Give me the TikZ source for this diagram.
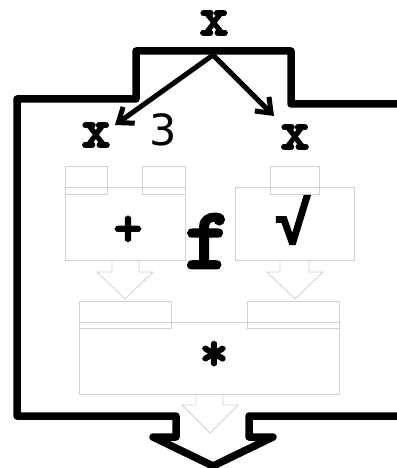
\documentclass[tikz,border=0pt]{standalone}
\usepackage{fontspec}
\newfontfamily\codefont[Extension=.otf, FakeBold=3]{lmmonolt10-bold}
\newfontfamily\rootfont{Liberation Mono Bold}[FakeBold=3]
\newfontfamily\numfont{DejaVu Sans}
\usetikzlibrary{arrows.meta, positioning}
\tikzstyle{arrow}=[-{Straight Barb[length=13pt,width=20pt]}, line width=5pt, color=black]

\begin{document}
\begin{tikzpicture}[x=1pt, y=-1pt,
  frame/.style={draw=black, line width=7.5pt, line join=round},
  part/.style={draw=black!18, line width=0.8pt},
  sym/.style={font=\codefont\fontsize{55}{55}\selectfont, inner sep=0pt},
  num/.style={font=\numfont\fontsize{43}{43}\selectfont, inner sep=0pt}
]
\useasboundingbox (0,0) rectangle (396,468);

% Outer function frame
\draw[frame] (400,104) -- (291,104) -- (291,51) -- (136,51) -- (136,99)
  -- (17,99) -- (17,416) -- (176,416) -- (176,437) -- (153,437)
  -- (213,466) -- (273,437) -- (249,437) -- (249,416) -- (400,416);

% Labels
\node[sym] (xin) at (214,23) {x};
\node[sym] (xleft) at (96,135) {x};
\node[num] (three) at (163,130) {3};
\node[sym] (xright) at (295,137) {x};
\node[sym, font=\codefont\fontsize{88}{88}\selectfont] (fname) at (208,241) {f};

% Arguments
\coordinate (split) at (213,55);
\coordinate (toleft) at (115,125);
\coordinate (toright) at (274,116);
\draw[arrow] (split) -- (toleft);
\draw[arrow] (split) -- (toright);

% Block "+"
\draw[part] (65,166) rectangle (107,194);
\draw[part] (142,166) rectangle (185,194);
\draw[part] (65,187) rectangle (185,260);
\draw[part] (112,260) -- (112,272) -- (97,272) -- (125,299) -- (153,272) -- (139,272) -- (139,260);
\node[sym] (plus) at (128,231) {+};

% Block sqrt
\draw[part] (270,166) rectangle (319,194);
\draw[part] (235,187) rectangle (354,260);
\draw[part] (280,260) -- (280,272) -- (267,272) -- (295,299) -- (323,272) -- (309,272) -- (309,260);
\node[sym, font=\rootfont\fontsize{60}{60}\selectfont] (root) at (293,220) {√};

% Block "*"
\draw[part] (79,301) rectangle (171,328);
\draw[part] (247,301) rectangle (339,328);
\draw[part] (79,322) rectangle (339,394);
\draw[part] (196,394) -- (196,405) -- (182,405) -- (210,433) -- (238,405) -- (223,405) -- (223,394);
\node[sym] (times) at (214,356) {*};
\end{tikzpicture}
\end{document}
